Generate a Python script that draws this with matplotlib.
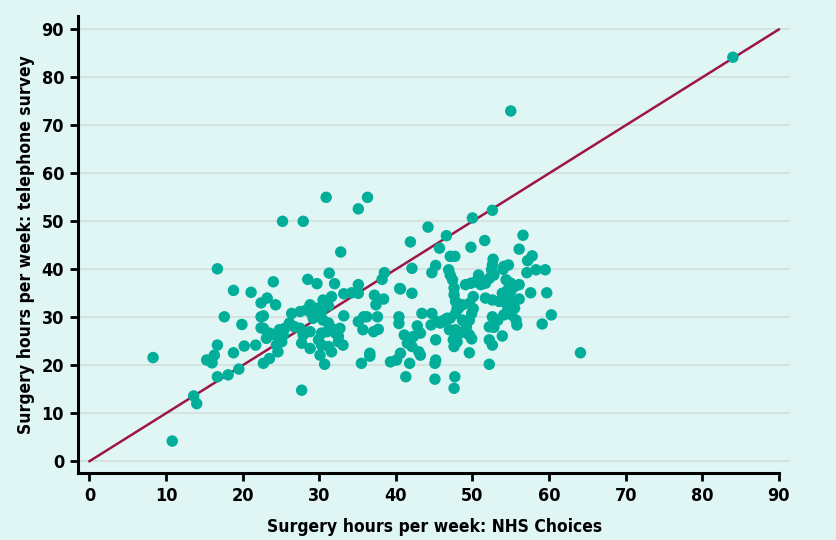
import numpy as np
import matplotlib
matplotlib.use("Agg")
import matplotlib.pyplot as plt

# NHS Choices hours (x) vs telephone survey hours (y)
nhs_choices = [
    84.0, 55.0, 8.3, 10.8, 13.6, 14.0, 64.1,
    25.2, 27.9, 30.9, 36.3, 35.1, 32.8, 50.0, 52.6, 46.6, 44.2, 41.9, 49.8, 45.7,
    51.6, 56.1, 56.6, 57.2, 57.8, 47.1, 47.7, 52.7,
    16.7, 18.8, 21.1, 24.0, 28.5, 29.7, 31.3, 32.0, 35.1, 38.5, 38.2, 40.5, 42.1,
    42.1, 44.7, 45.2, 46.9, 47.1, 47.4, 47.6, 47.6, 52.6, 52.5, 52.8, 54.0, 54.7,
    52.2, 51.7, 51.1, 50.4, 49.8, 49.1, 50.8, 54.4, 55.0, 55.5, 56.1, 57.1, 58.3,
    59.5, 54.1, 57.6, 59.7, 54.6, 53.9, 55.0,
    22.4, 17.6, 19.9, 22.4, 22.4, 16.7, 15.3, 16.3, 16.0, 18.8, 20.2, 21.7, 22.7,
    16.7, 18.1, 19.5,
    23.2, 24.3, 22.7, 26.4, 27.5, 28.8, 28.3, 29.0, 29.2, 29.7, 30.3, 30.5, 31.6,
    31.2, 33.2, 34.2, 35.1, 33.2, 35.1, 35.7, 35.8, 36.2,
    22.7, 23.5, 23.1, 24.2, 24.8, 25.3, 25.5, 26.1, 26.8, 25.1, 24.4, 27.5, 27.9,
    28.8,
    30.5, 31.2, 31.6, 31.0, 30.3, 32.1, 32.5, 32.7, 29.9, 30.3, 31.2, 31.6, 32.5,
    33.1, 27.7, 28.8, 24.6, 23.5, 30.1, 30.7, 35.5, 27.7,
    37.2, 38.4, 37.4, 40.6, 37.6, 37.1, 37.7, 36.6, 36.6, 39.3, 40.1, 40.6, 41.8,
    41.3, 40.4, 40.4, 41.1, 41.5, 42.1, 43.0, 43.2, 42.8, 42.3, 43.4, 44.7, 45.4,
    45.8, 46.7, 45.2, 45.2, 45.1, 45.1, 47.7, 47.6, 49.6, 43.2, 44.6,
    47.0, 47.8, 48.5, 47.5, 48.0, 47.6, 49.6,
    47.8, 48.0, 47.8, 50.1, 49.6, 50.1, 49.9, 49.6, 49.2, 49.4, 49.9,
    51.7, 52.6, 53.5, 54.4, 55.2,
    48.7, 48.2, 46.3, 47.1, 48.7, 49.1, 47.6, 48.0,
    52.6, 52.2, 52.8, 53.3, 54.1, 54.6, 55.5, 55.7, 53.9, 52.2, 52.6, 52.2,
    54.8, 54.4, 56.1, 55.1, 55.8, 60.3, 59.1,
]
telephone = [
    84.2, 73.0, 21.6, 4.2, 13.6, 12.0, 22.6,
    50.0, 50.0, 55.0, 55.0, 52.6, 43.6, 50.7, 52.3, 47.0, 48.8, 45.7, 44.6, 44.4,
    46.0, 44.2, 47.1, 41.8, 42.8, 42.7, 42.7, 42.1,
    40.1, 35.6, 35.2, 37.4, 37.9, 37.0, 39.2, 37.0, 36.8, 39.3, 37.9, 36.0, 35.0,
    40.2, 39.3, 40.8, 39.9, 38.8, 37.8, 36.1, 34.7, 40.9, 39.9, 38.8, 40.0, 40.9,
    38.1, 37.1, 36.8, 37.4, 37.1, 36.8, 38.8, 37.8, 37.1, 36.4, 36.8, 39.3, 39.9,
    39.9, 40.6, 35.1, 35.1, 35.7, 35.0, 35.4,
    33.0, 30.1, 28.5, 30.1, 27.8, 24.2, 21.1, 22.1, 20.5, 22.6, 24.0, 24.2, 20.4,
    17.6, 18.0, 19.2,
    34.0, 32.6, 30.3, 30.8, 31.2, 32.6, 31.5, 30.8, 29.8, 31.9, 31.2, 33.6, 34.3,
    32.4, 34.9, 35.1, 35.0, 30.3, 29.1, 27.4, 30.1, 30.1,
    27.7, 26.7, 25.6, 26.3, 27.4, 26.3, 27.7, 28.8, 28.0, 24.9, 24.2, 27.7, 26.3,
    27.0,
    29.4, 28.8, 27.7, 27.0, 26.7, 26.7, 26.0, 27.7, 25.3, 24.2, 23.9, 22.8, 24.9,
    24.2, 24.6, 23.5, 22.8, 21.4, 22.1, 20.2, 20.4, 14.8,
    34.6, 33.8, 32.6, 35.9, 30.1, 27.0, 27.5, 22.5, 21.9, 20.7, 21.1, 22.5, 20.4,
    17.6, 30.1, 28.7, 26.3, 24.6, 23.9, 22.8, 26.7, 28.2, 26.0, 30.8, 30.8, 29.1,
    28.8, 29.8, 25.3, 21.1, 20.4, 17.1, 17.6, 15.2, 22.6, 22.1, 28.4,
    27.4, 27.4, 26.8, 25.3, 24.9, 23.9, 26.3,
    33.3, 31.9, 30.8, 34.3, 32.9, 31.8, 30.8, 29.4, 28.0, 26.6, 25.5,
    34.0, 33.6, 33.3, 32.9, 32.6,
    32.6, 31.9, 29.4, 29.8, 29.4, 28.8, 27.0, 26.3,
    30.1, 28.0, 27.9, 29.4, 30.5, 31.5, 31.9, 29.4, 26.1, 25.3, 24.2, 20.2,
    34.0, 33.6, 33.8, 30.5, 28.4, 30.5, 28.6,
]
line_ends = [0, 90]
x_ticks = list(range(0, 100, 10))
y_ticks = list(range(0, 100, 10))

bg = '#e0f6f4'
plt.rcParams['font.family'] = ['DejaVu Sans']
plt.rcParams['font.stretch'] = 'condensed'
plt.rcParams['font.weight'] = 'bold'

fig = plt.figure(figsize=(8.37, 5.4), dpi=100, facecolor=bg)
ax = fig.add_axes([0.0932, 0.1246, 0.851, 0.8458])
ax.set_facecolor(bg)

for t in y_ticks:
    ax.axhline(t, color='#d2dede', lw=1.2, zorder=0)

ax.plot(line_ends, line_ends, color='#9e1548', lw=1.8, zorder=2)
ax.scatter(nhs_choices, telephone, s=68, color='#00ae9a', edgecolors='none', zorder=3)

ax.set_xlim(-1.5, 91.5)
ax.set_ylim(-2.4, 92.8)
ax.set_xticks(x_ticks)
ax.set_yticks(y_ticks)
ax.spines['top'].set_visible(False)
ax.spines['right'].set_visible(False)
ax.spines['left'].set_linewidth(2.2)
ax.spines['bottom'].set_linewidth(2.2)
ax.spines['bottom'].set_bounds(-1.5, 90)
ax.tick_params(axis='both', direction='out', length=6, width=2, labelsize=13, pad=4)
for lab in ax.get_xticklabels() + ax.get_yticklabels():
    lab.set_fontweight('bold')
    lab.set_fontstretch('condensed')

ax.set_xlabel('Surgery hours per week: NHS Choices', fontsize=12.5, fontweight='bold',
              fontstretch='condensed', labelpad=10)
ax.set_ylabel('Surgery hours per week: telephone survey', fontsize=12.5, fontweight='bold',
              fontstretch='condensed', labelpad=5)

fig.savefig('out.png', dpi=100, facecolor=bg)
